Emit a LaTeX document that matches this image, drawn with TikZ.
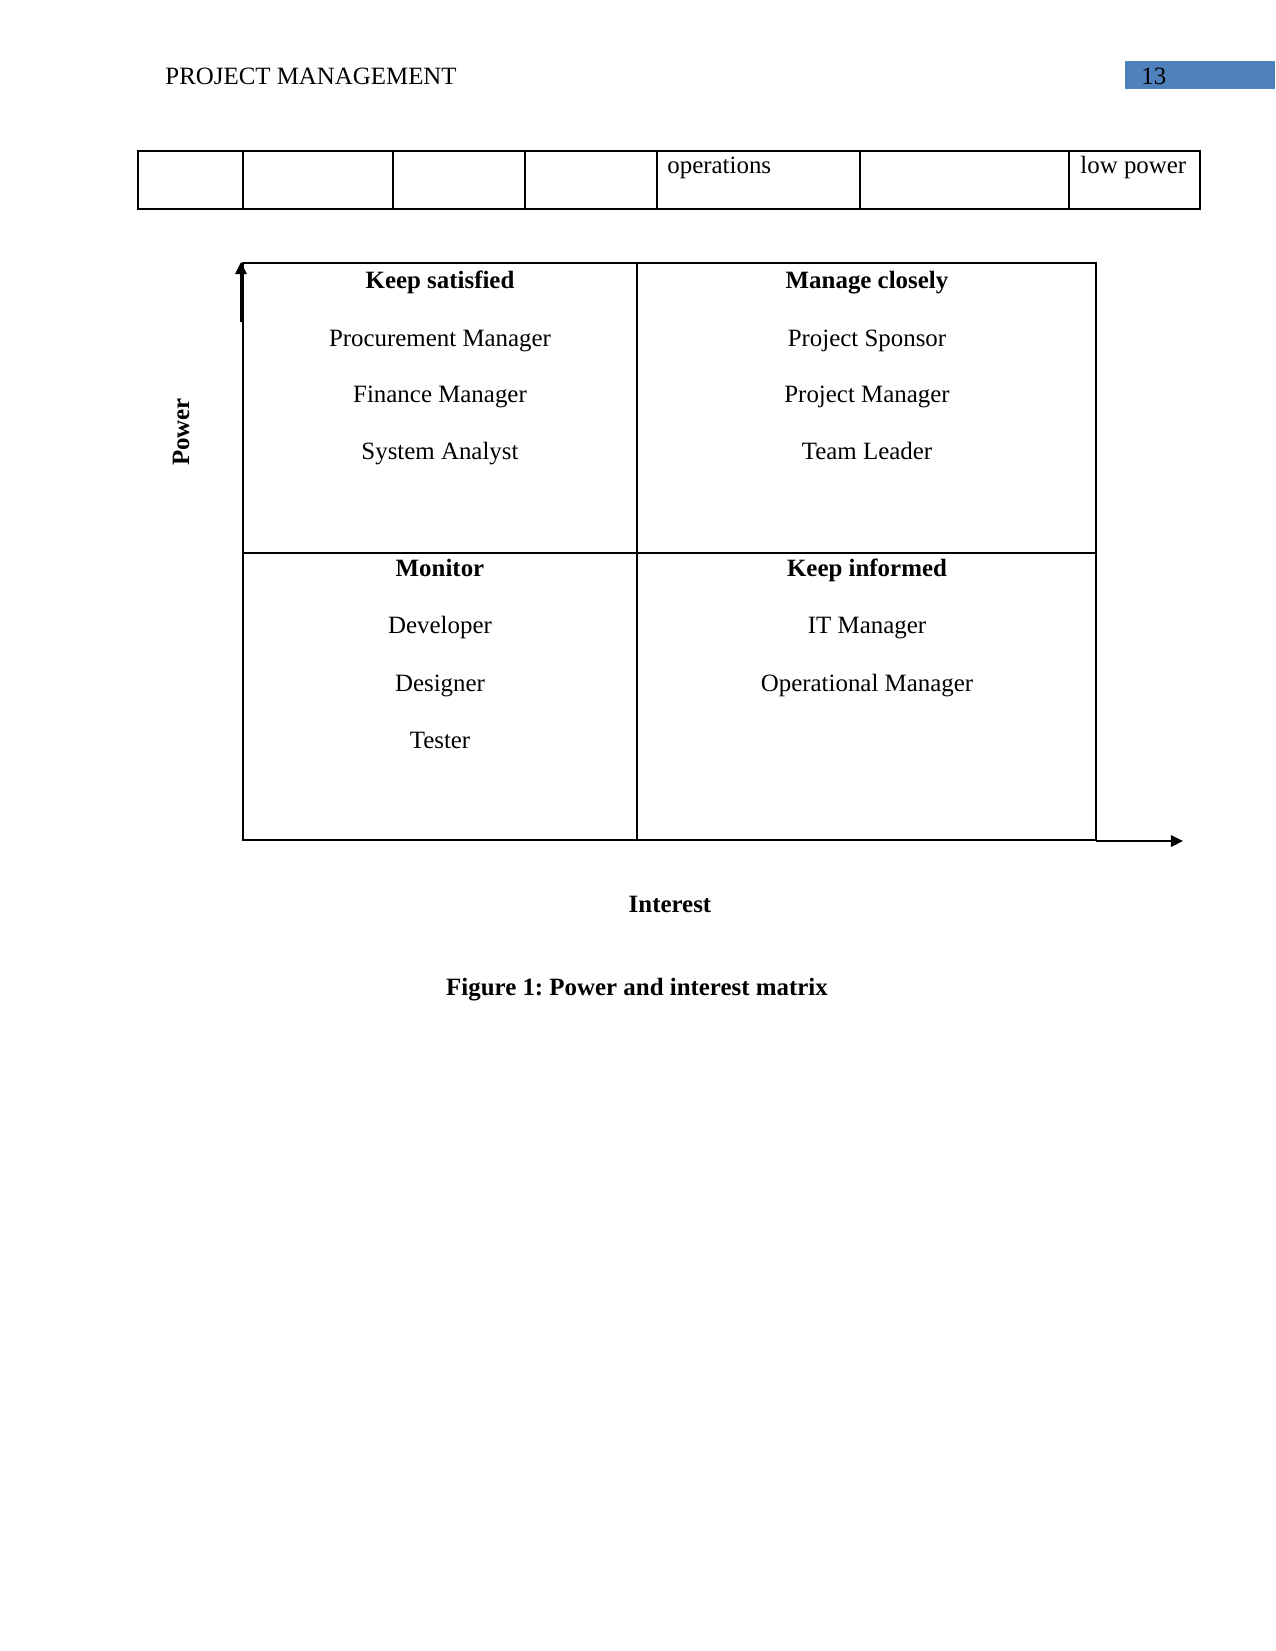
\documentclass[tikz,border=0pt]{standalone}
\usepackage{fontspec}
\setmainfont{Liberation Serif}
\usepackage{xcolor}
\usetikzlibrary{arrows.meta}
\definecolor{headblue}{HTML}{4F81BD}
\frenchspacing

\begin{document}
\begin{tikzpicture}[x=0.48bp,y=-0.48bp,
  every node/.style={font=\fontsize{12}{14}\selectfont,inner sep=0pt,anchor=base},
  grid/.style={line width=0.6pt},
  axis/.style={line width=0.7pt,-{Triangle[length=5.8bp,width=5.6bp]}}]
\useasboundingbox (0,0) rectangle (1275,1651);
% page header
\node (title) at (165,84) [anchor=base west] {PROJECT MANAGEMENT};
\fill[headblue] (1125,61) rectangle (1275,89);
\node (pagenum) at (1141,84) [anchor=base west] {13};
% end of the table from the page before
\draw[line width=1pt] (138,151) rectangle (1200,209);
\foreach \x in {243,393,525,657,860,1069}
  \draw[line width=0.6pt] (\x,151) -- (\x,209);
\node (ops) at (667,173) [anchor=base west] {operations};
\node (lowpow) at (1080,173) [anchor=base west] {low power};
% the matrix
\draw[grid] (243,263) rectangle (1096,840);
\draw[grid] (637,263) -- (637,840);
\draw[grid] (243,553) -- (1096,553);
% top left
\node (keepsat) at (440,288) {\textbf{Keep satisfied}};
\node (procure) at (440,346) {Procurement Manager};
\node (finance) at (440,402) {Finance Manager};
\node (sysan) at (440,459) {System Analyst};
% top right
\node (manage) at (867,288) {\textbf{Manage closely}};
\node (sponsor) at (867,346) {Project Sponsor};
\node (projman) at (867,402) {Project Manager};
\node (leader) at (867,459) {Team Leader};
% bottom left
\node (monitor) at (440,576) {\textbf{Monitor}};
\node (dev) at (440,633) {Developer};
\node (designer) at (440,691) {Designer};
\node (tester) at (440,748) {Tester};
% bottom right
\node (keepinf) at (867,576) {\textbf{Keep informed}};
\node (itman) at (867,633) {IT Manager};
\node (opman) at (867,691) {Operational Manager};
% axes
\coordinate (ytail) at (241,322);
\coordinate (ytip) at (241,262);
\draw[axis] (ytail) -- (ytip);
\coordinate (xtail) at (1096,841);
\coordinate (xtip) at (1183,841);
\draw[axis] (xtail) -- (xtip);
\node (power) at (189,432) [rotate=90] {\textbf{Power}};
\node (interest) at (670,912) {\textbf{Interest}};
\node (caption) at (637,995) {\textbf{Figure 1: Power and interest matrix}};
\end{tikzpicture}
\end{document}
